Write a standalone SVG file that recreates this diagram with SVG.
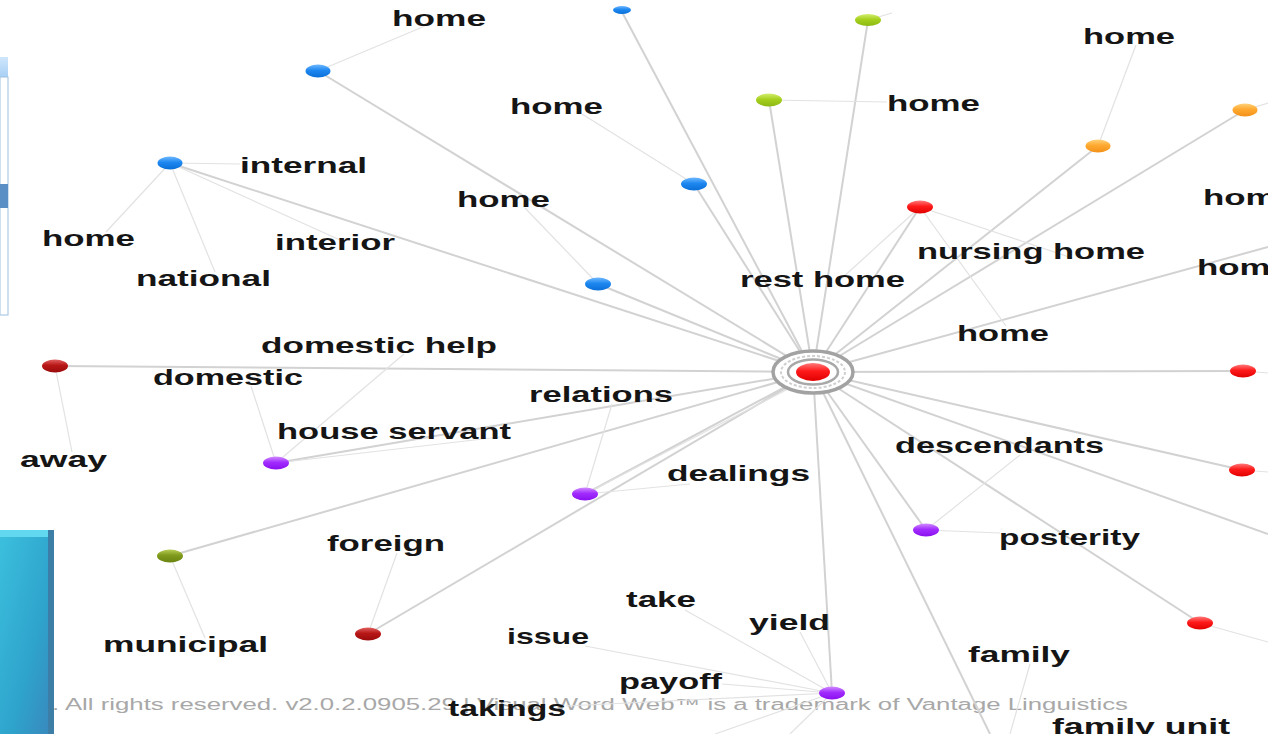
<svg xmlns="http://www.w3.org/2000/svg" width="1268" height="734" viewBox="0 0 1268 734">
<defs>
<style>
.hl{stroke:#d2d2d2;stroke-width:2;fill:none}
.ll{stroke:#e2e2e2;stroke-width:1.2;fill:none}
.lb{font-family:"Liberation Sans",Arial,sans-serif;font-weight:bold;font-size:22px;fill:#151515}
.ft{font-family:"Liberation Sans",Arial,sans-serif;font-size:16px;fill:#a8a8a8}
</style>
<linearGradient id="gBlue" x1="0" y1="0" x2="0" y2="1"><stop offset="0" stop-color="#6fb8ff"/><stop offset="0.45" stop-color="#1e88f0"/><stop offset="1" stop-color="#0a6fd8"/></linearGradient>
<linearGradient id="gGreen" x1="0" y1="0" x2="0" y2="1"><stop offset="0" stop-color="#d4ee70"/><stop offset="0.45" stop-color="#a6d01e"/><stop offset="1" stop-color="#8cb812"/></linearGradient>
<linearGradient id="gOrange" x1="0" y1="0" x2="0" y2="1"><stop offset="0" stop-color="#ffd27a"/><stop offset="0.45" stop-color="#ffa930"/><stop offset="1" stop-color="#f3911a"/></linearGradient>
<linearGradient id="gRed" x1="0" y1="0" x2="0" y2="1"><stop offset="0" stop-color="#ff7a7a"/><stop offset="0.45" stop-color="#ff1a1a"/><stop offset="1" stop-color="#e00000"/></linearGradient>
<linearGradient id="gDark" x1="0" y1="0" x2="0" y2="1"><stop offset="0" stop-color="#e06060"/><stop offset="0.45" stop-color="#b81616"/><stop offset="1" stop-color="#9a0c0c"/></linearGradient>
<linearGradient id="gPurple" x1="0" y1="0" x2="0" y2="1"><stop offset="0" stop-color="#d08cff"/><stop offset="0.45" stop-color="#a22cff"/><stop offset="1" stop-color="#8a10ee"/></linearGradient>
<linearGradient id="gOlive" x1="0" y1="0" x2="0" y2="1"><stop offset="0" stop-color="#b8cc55"/><stop offset="0.45" stop-color="#7f9a1c"/><stop offset="1" stop-color="#6a8410"/></linearGradient>
<linearGradient id="gBox" x1="0" y1="0" x2="1" y2="1"><stop offset="0" stop-color="#3cc0de"/><stop offset="0.6" stop-color="#2ea3cc"/><stop offset="1" stop-color="#3a86bc"/></linearGradient>
<linearGradient id="gHead" x1="0" y1="0" x2="0" y2="1"><stop offset="0" stop-color="#cfe6fb"/><stop offset="1" stop-color="#a9d0f5"/></linearGradient>
</defs>
<rect width="1268" height="734" fill="#ffffff"/>

<g id="panel-left">
<rect x="0" y="57" width="8" height="20" fill="url(#gHead)"/>
<rect x="0" y="77" width="8" height="238" fill="#ffffff" stroke="#9dc0e0" stroke-width="1"/>
<rect x="0" y="184" width="8" height="24" fill="#5a8fc6"/>
</g>
<g id="box-left">
<rect x="0" y="530" width="54" height="204" fill="url(#gBox)"/>
<rect x="0" y="530" width="54" height="7" fill="#62d8f0"/>
<rect x="48" y="530" width="6" height="204" fill="#3c7ea6"/>
</g>

<text class="ft" x="52" y="710" textLength="1076" lengthAdjust="spacingAndGlyphs">. All rights reserved. v2.0.2.0905.29 | Visual Word Web™ is a trademark of Vantage Linguistics</text>

<g id="connectors">
<line class="hl" x1="813" y1="372" x2="318" y2="71"/>
<line class="hl" x1="813" y1="372" x2="622" y2="12"/>
<line class="hl" x1="813" y1="372" x2="170" y2="163"/>
<line class="hl" x1="813" y1="372" x2="694" y2="184"/>
<line class="hl" x1="813" y1="372" x2="598" y2="284"/>
<line class="hl" x1="813" y1="372" x2="868" y2="20"/>
<line class="hl" x1="813" y1="372" x2="769" y2="100"/>
<line class="hl" x1="813" y1="372" x2="1098" y2="146"/>
<line class="hl" x1="813" y1="372" x2="1245" y2="110"/>
<line class="hl" x1="813" y1="372" x2="920" y2="207"/>
<line class="hl" x1="813" y1="372" x2="1268" y2="247"/>
<line class="hl" x1="813" y1="372" x2="1243" y2="371"/>
<line class="hl" x1="813" y1="372" x2="1242" y2="470"/>
<line class="hl" x1="813" y1="372" x2="1268" y2="534"/>
<line class="hl" x1="813" y1="372" x2="1200" y2="623"/>
<line class="hl" x1="813" y1="372" x2="990" y2="734"/>
<line class="hl" x1="813" y1="372" x2="832" y2="693"/>
<line class="hl" x1="813" y1="372" x2="926" y2="530"/>
<line class="hl" x1="813" y1="372" x2="585" y2="494"/>
<line class="hl" x1="813" y1="372" x2="368" y2="634"/>
<line class="hl" x1="813" y1="372" x2="276" y2="463"/>
<line class="hl" x1="813" y1="372" x2="170" y2="556"/>
<line class="hl" x1="813" y1="372" x2="55" y2="366"/>

<line class="ll" x1="318" y1="71" x2="425" y2="26"/>
<line class="ll" x1="170" y1="163" x2="240" y2="164"/>
<line class="ll" x1="170" y1="163" x2="106" y2="232"/>
<line class="ll" x1="170" y1="163" x2="215" y2="272"/>
<line class="ll" x1="170" y1="163" x2="340" y2="240"/>
<line class="ll" x1="694" y1="184" x2="582" y2="114"/>
<line class="ll" x1="598" y1="284" x2="525" y2="208"/>
<line class="ll" x1="769" y1="100" x2="887" y2="102"/>
<line class="ll" x1="868" y1="20" x2="892" y2="13"/>
<line class="ll" x1="1098" y1="146" x2="1136" y2="45"/>
<line class="ll" x1="1245" y1="110" x2="1268" y2="103"/>
<line class="ll" x1="920" y1="207" x2="840" y2="280"/>
<line class="ll" x1="920" y1="207" x2="1072" y2="258"/>
<line class="ll" x1="920" y1="207" x2="1006" y2="326"/>
<line class="ll" x1="1243" y1="371" x2="1268" y2="373"/>
<line class="ll" x1="1242" y1="470" x2="1268" y2="472"/>
<line class="ll" x1="1200" y1="623" x2="1268" y2="642"/>
<line class="ll" x1="55" y1="366" x2="72" y2="452"/>
<line class="ll" x1="276" y1="463" x2="251" y2="386"/>
<line class="ll" x1="276" y1="463" x2="404" y2="354"/>
<line class="ll" x1="276" y1="463" x2="500" y2="437"/>
<line class="ll" x1="585" y1="494" x2="612" y2="404"/>
<line class="ll" x1="585" y1="494" x2="690" y2="484"/>
<line class="ll" x1="585" y1="494" x2="790" y2="388"/>
<line class="ll" x1="368" y1="634" x2="397" y2="553"/>
<line class="ll" x1="170" y1="556" x2="205" y2="638"/>
<line class="ll" x1="926" y1="530" x2="1020" y2="455"/>
<line class="ll" x1="926" y1="530" x2="1000" y2="533"/>
<line class="ll" x1="832" y1="693" x2="685" y2="610"/>
<line class="ll" x1="832" y1="693" x2="800" y2="632"/>
<line class="ll" x1="832" y1="693" x2="585" y2="646"/>
<line class="ll" x1="832" y1="693" x2="722" y2="684"/>
<line class="ll" x1="832" y1="693" x2="566" y2="706"/>
<line class="ll" x1="832" y1="693" x2="715" y2="734"/>
<line class="ll" x1="832" y1="693" x2="790" y2="734"/>
<line class="ll" x1="1030" y1="664" x2="1010" y2="734"/>
</g>

<g id="hub">
<ellipse cx="813" cy="372" rx="40" ry="21" fill="#ffffff" stroke="#a2a2a2" stroke-width="3.5"/>
<ellipse cx="813" cy="372" rx="32" ry="16" fill="none" stroke="#cfcfcf" stroke-width="2" stroke-dasharray="3 2"/>
<ellipse cx="813" cy="372" rx="25" ry="12.5" fill="none" stroke="#a8a8a8" stroke-width="2.5"/>
<ellipse cx="813" cy="372" rx="17" ry="9" fill="url(#gRed)"/>
</g>

<g id="n-blue1"><ellipse cx="318" cy="71" rx="12.5" ry="6.5" fill="url(#gBlue)"/></g>
<g id="n-blue2"><ellipse cx="622" cy="10" rx="9" ry="4" fill="url(#gBlue)"/></g>
<g id="n-blue3"><ellipse cx="170" cy="163" rx="12.5" ry="6.5" fill="url(#gBlue)"/></g>
<g id="n-blue4"><ellipse cx="694" cy="184" rx="13" ry="6.5" fill="url(#gBlue)"/></g>
<g id="n-blue5"><ellipse cx="598" cy="284" rx="13" ry="6.5" fill="url(#gBlue)"/></g>
<g id="n-green1"><ellipse cx="868" cy="20" rx="13" ry="6" fill="url(#gGreen)"/></g>
<g id="n-green2"><ellipse cx="769" cy="100" rx="13" ry="6.5" fill="url(#gGreen)"/></g>
<g id="n-orange1"><ellipse cx="1098" cy="146" rx="12.5" ry="6.5" fill="url(#gOrange)"/></g>
<g id="n-orange2"><ellipse cx="1245" cy="110" rx="12.5" ry="6.5" fill="url(#gOrange)"/></g>
<g id="n-red1"><ellipse cx="920" cy="207" rx="13" ry="6.5" fill="url(#gRed)"/></g>
<g id="n-red2"><ellipse cx="1243" cy="371" rx="13" ry="6.5" fill="url(#gRed)"/></g>
<g id="n-red3"><ellipse cx="1242" cy="470" rx="13" ry="6.5" fill="url(#gRed)"/></g>
<g id="n-red4"><ellipse cx="1200" cy="623" rx="13" ry="6.5" fill="url(#gRed)"/></g>
<g id="n-dark1"><ellipse cx="55" cy="366" rx="13" ry="6.5" fill="url(#gDark)"/></g>
<g id="n-dark2"><ellipse cx="368" cy="634" rx="13" ry="6.5" fill="url(#gDark)"/></g>
<g id="n-purple1"><ellipse cx="276" cy="463" rx="13" ry="6.5" fill="url(#gPurple)"/></g>
<g id="n-purple2"><ellipse cx="585" cy="494" rx="13" ry="6.5" fill="url(#gPurple)"/></g>
<g id="n-purple3"><ellipse cx="926" cy="530" rx="13" ry="6.5" fill="url(#gPurple)"/></g>
<g id="n-purple4"><ellipse cx="832" cy="693" rx="13" ry="6.5" fill="url(#gPurple)"/></g>
<g id="n-olive"><ellipse cx="170" cy="556" rx="13" ry="6.5" fill="url(#gOlive)"/></g>

<g id="labels">
<text class="lb" x="392" y="26" textLength="94" lengthAdjust="spacingAndGlyphs">home</text>
<text class="lb" x="510" y="114" textLength="93" lengthAdjust="spacingAndGlyphs">home</text>
<text class="lb" x="887" y="111" textLength="93" lengthAdjust="spacingAndGlyphs">home</text>
<text class="lb" x="1083" y="44" textLength="92" lengthAdjust="spacingAndGlyphs">home</text>
<text class="lb" x="240" y="173" textLength="127" lengthAdjust="spacingAndGlyphs">internal</text>
<text class="lb" x="42" y="246" textLength="93" lengthAdjust="spacingAndGlyphs">home</text>
<text class="lb" x="275" y="250" textLength="120" lengthAdjust="spacingAndGlyphs">interior</text>
<text class="lb" x="136" y="286" textLength="135" lengthAdjust="spacingAndGlyphs">national</text>
<text class="lb" x="457" y="207" textLength="93" lengthAdjust="spacingAndGlyphs">home</text>
<text class="lb" x="740" y="287" textLength="165" lengthAdjust="spacingAndGlyphs">rest home</text>
<text class="lb" x="917" y="259" textLength="228" lengthAdjust="spacingAndGlyphs">nursing home</text>
<text class="lb" x="1203" y="205" textLength="93" lengthAdjust="spacingAndGlyphs">home</text>
<text class="lb" x="1197" y="275" textLength="93" lengthAdjust="spacingAndGlyphs">home</text>
<text class="lb" x="957" y="341" textLength="92" lengthAdjust="spacingAndGlyphs">home</text>
<text class="lb" x="261" y="353" textLength="236" lengthAdjust="spacingAndGlyphs">domestic help</text>
<text class="lb" x="153" y="385" textLength="150" lengthAdjust="spacingAndGlyphs">domestic</text>
<text class="lb" x="529" y="402" textLength="144" lengthAdjust="spacingAndGlyphs">relations</text>
<text class="lb" x="277" y="439" textLength="234" lengthAdjust="spacingAndGlyphs">house servant</text>
<text class="lb" x="20" y="467" textLength="87" lengthAdjust="spacingAndGlyphs">away</text>
<text class="lb" x="895" y="453" textLength="209" lengthAdjust="spacingAndGlyphs">descendants</text>
<text class="lb" x="667" y="481" textLength="143" lengthAdjust="spacingAndGlyphs">dealings</text>
<text class="lb" x="999" y="545" textLength="141" lengthAdjust="spacingAndGlyphs">posterity</text>
<text class="lb" x="327" y="551" textLength="118" lengthAdjust="spacingAndGlyphs">foreign</text>
<text class="lb" x="626" y="607" textLength="70" lengthAdjust="spacingAndGlyphs">take</text>
<text class="lb" x="749" y="630" textLength="81" lengthAdjust="spacingAndGlyphs">yield</text>
<text class="lb" x="507" y="644" textLength="82" lengthAdjust="spacingAndGlyphs">issue</text>
<text class="lb" x="103" y="652" textLength="165" lengthAdjust="spacingAndGlyphs">municipal</text>
<text class="lb" x="968" y="662" textLength="102" lengthAdjust="spacingAndGlyphs">family</text>
<text class="lb" x="619" y="689" textLength="103" lengthAdjust="spacingAndGlyphs">payoff</text>
<text class="lb" x="448" y="716" textLength="118" lengthAdjust="spacingAndGlyphs">takings</text>
<text class="lb" x="1052" y="734" textLength="178" lengthAdjust="spacingAndGlyphs">family unit</text>
</g>
</svg>
